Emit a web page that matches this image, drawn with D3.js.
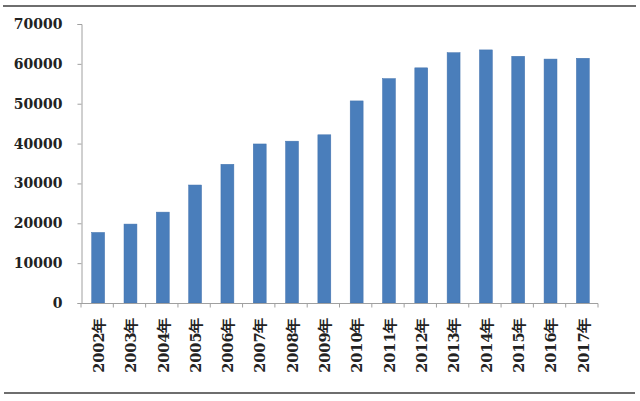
<!DOCTYPE html>
<html><head><meta charset="utf-8">
<script src="https://cdn.jsdelivr.net/npm/d3@7"></script>
<style>html,body{margin:0;padding:0;background:#fff;}svg{display:block;}</style>
</head><body>
<svg id="c" width="640" height="401"></svg>
<script>
const years = ["2002年","2003年","2004年","2005年","2006年","2007年","2008年","2009年","2010年","2011年","2012年","2013年","2014年","2015年","2016年","2017年"];
const values = [17700,19800,22800,29600,34800,39900,40600,42200,50700,56300,59000,62800,63500,61900,61200,61400];
const yTicks = [0,10000,20000,30000,40000,50000,60000,70000];

(function(){
const svg = d3.select("#c");
const pl = 81, pr = 598, pt = 24, pb = 303;
const font = "'DejaVu Serif', serif";

// frame lines
svg.append("line").attr("x1",3).attr("x2",636).attr("y1",6).attr("y2",6).attr("stroke","#6e6e6e").attr("stroke-width",2);
svg.append("line").attr("x1",4).attr("x2",635).attr("y1",393).attr("y2",393).attr("stroke","#6e6e6e").attr("stroke-width",2);

const x = d3.scaleBand().domain(years).range([pl+1,pr+1]).paddingInner(0.6).paddingOuter(0.3);
const xb = d3.scaleBand().domain(years).range([pl,pr]);
const y = d3.scaleLinear().domain([0,70000]).range([pb,pt]);

svg.append("g").selectAll("rect").data(values).join("rect")
  .attr("x",(d,i)=>x(years[i]))
  .attr("width",x.bandwidth())
  .attr("y",d=>y(d))
  .attr("height",d=>pb-y(d))
  .attr("fill","#4a7ebb")
  .attr("stroke","#4272ad").attr("stroke-width",0.5);

// y axis
const yAxis = d3.axisLeft(y).tickValues(yTicks).tickSize(4).tickPadding(15).tickFormat(d3.format("d"));
const gy = svg.append("g").attr("transform",`translate(${pl+0.5},0)`).call(yAxis);
gy.select(".domain").attr("stroke","#a0a0a0");
gy.selectAll(".tick line").attr("stroke","#a0a0a0");
gy.selectAll("text").attr("font-family",font).attr("font-size",14).attr("font-weight","bold").attr("fill","#222");

// x axis (band boundaries ticks)
const gx = svg.append("g").attr("transform",`translate(0,${pb+0.5})`);
gx.append("line").attr("x1",pl).attr("x2",pr).attr("stroke","#a0a0a0");
const bounds = years.map(d=>xb(d)).concat([pr]);
gx.selectAll(".tk").data(bounds).join("line").attr("class","tk")
  .attr("x1",d=>d).attr("x2",d=>d).attr("y1",0).attr("y2",4).attr("stroke","#a0a0a0");
gx.selectAll("text").data(years).join("text")
  .attr("transform",d=>`translate(${xb(d)+xb.bandwidth()/2+1.5},14) rotate(-90)`)
  .attr("text-anchor","end").attr("dy","0.36em")
  .attr("font-family",font).attr("font-size",14.5).attr("font-weight","bold").attr("fill","#222")
  .text(d=>d);
})();
</script>
</body></html>
